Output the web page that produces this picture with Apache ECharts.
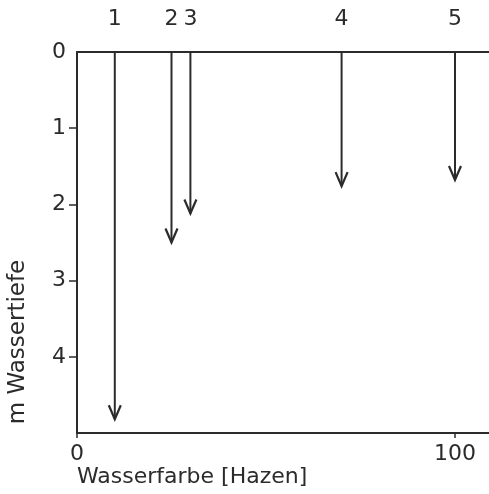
<!DOCTYPE html>
<html>
<head>
<meta charset="utf-8">
<script src="https://cdn.jsdelivr.net/npm/echarts@6.0.0/dist/echarts.min.js"></script>
<style>
  html, body { margin: 0; padding: 0; background: #fff; }
  #chart { width: 489px; height: 494px; }
</style>
</head>
<body>
<div id="chart"></div>
<script>
// stations and their colour / depth readings
const stations = ['1', '2', '3', '4', '5'];
const colour = [10, 25, 30, 70, 100];     // Wasserfarbe [Hazen]
const depth = [4.82, 2.5, 2.12, 1.76, 1.68]; // m Wassertiefe

const ink = '#2b2b2b';
const font = 'DejaVu Sans';

const chart = echarts.init(document.getElementById('chart'));

chart.setOption({
    animation: false,
    backgroundColor: '#fff',
    title: {
        text: 'Wasserfarbe [Hazen]',
        left: 72, top: 461,
        textStyle: { fontFamily: font, fontSize: 22, fontWeight: 'normal', color: ink }
    },
    graphic: [{
        type: 'text',
        x: 18, y: 342,
        rotation: Math.PI / 2,
        style: {
            text: 'm Wassertiefe',
            fontFamily: font, fontSize: 23, fill: ink,
            align: 'center', verticalAlign: 'middle'
        }
    }],
    grid: { left: 77, top: 52, right: 0, bottom: 61 },
    xAxis: [{
        type: 'value', position: 'bottom',
        min: 0, max: 109, interval: 100,
        splitLine: { show: false },
        axisLine: { onZero: false, lineStyle: { color: ink, width: 2 } },
        axisTick: { length: 5, customValues: [0, 100], lineStyle: { color: ink, width: 1.5 } },
        axisLabel: {
            customValues: [0, 100], margin: 10,
            fontFamily: font, fontSize: 22, color: ink
        }
    }, {
        type: 'value', position: 'top',
        min: 0, max: 109,
        splitLine: { show: false },
        axisLine: { onZero: false, lineStyle: { color: ink, width: 2 } },
        axisTick: { show: false },
        axisLabel: { show: false }
    }],
    yAxis: {
        type: 'value', inverse: true,
        min: 0, max: 5, interval: 1,
        splitLine: { show: false },
        axisLine: { onZero: false, lineStyle: { color: ink, width: 2 } },
        axisTick: { length: 8, customValues: [1, 2, 3, 4], lineStyle: { color: ink, width: 1.5 } },
        axisLabel: {
            customValues: [0, 1, 2, 3, 4], margin: 11,
            fontFamily: font, fontSize: 22, color: ink
        }
    },
    series: [{
        type: 'custom',
        xAxisIndex: 0,
        data: colour.map((c, i) => [c, depth[i]]),
        renderItem(params, api) {
            const top = api.coord([api.value(0), 0]);
            const tip = api.coord([api.value(0), api.value(1)]);
            return {
                type: 'group',
                children: [{
                    type: 'line',
                    shape: { x1: top[0], y1: top[1], x2: tip[0], y2: tip[1] },
                    style: { stroke: ink, lineWidth: 2 }
                }, {
                    type: 'polyline',
                    shape: { points: [[tip[0] - 6, tip[1] - 14], [tip[0], tip[1]], [tip[0] + 6, tip[1] - 14]] },
                    style: { stroke: ink, lineWidth: 2.2, fill: null }
                }, {
                    type: 'text',
                    style: {
                        text: stations[params.dataIndex],
                        x: top[0], y: top[1] - 33,
                        align: 'center', verticalAlign: 'middle',
                        fontFamily: font, fontSize: 22, fill: ink
                    }
                }]
            };
        }
    }]
});
</script>
</body>
</html>
